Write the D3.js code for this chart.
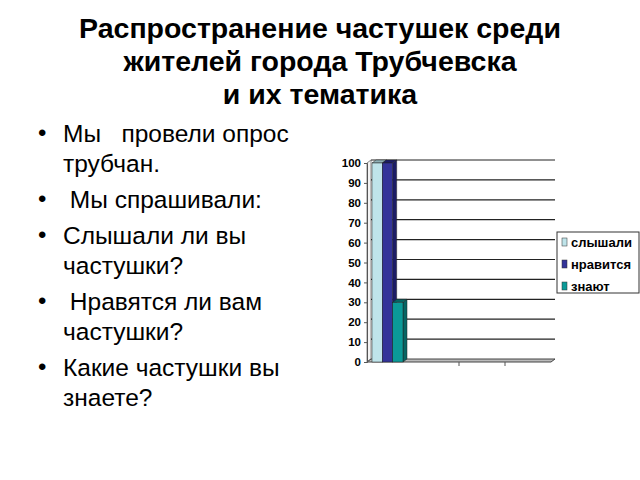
<!DOCTYPE html>
<html>
<head>
<meta charset="utf-8">
<script src="https://cdn.jsdelivr.net/npm/d3@7"></script>
<style>
  body { margin: 0; background: #fff; }
  svg { display: block; }
</style>
</head>
<body>
<div id="slide"></div>
<script>
var titleLines = ["Распространение частушек среди", "жителей города Трубчевска", "и их тематика"];
var bulletItems = [
  ["Мы   провели опрос", "трубчан."],
  ["\u00a0Мы спрашивали:"],
  ["Слышали ли вы", "частушки?"],
  ["\u00a0Нравятся ли вам", "частушки?"],
  ["Какие частушки вы", "знаете?"]
];
var categories = ["1", "2", "3", "4"];
var seriesNames = ["слышали", "нравится", "знают"];
var seriesValues = [[100], [100], [30]];
var seriesColors = ["#bfe4ea", "#333399", "#0b9a98"];
var seriesSides = ["#8fb0b6", "#1c1c66", "#066664"];
var yTicks = [0, 10, 20, 30, 40, 50, 60, 70, 80, 90, 100];

var W = 640, H = 480;
var svg = d3.select("#slide").append("svg")
  .attr("width", W).attr("height", H)
  .style("font-family", "'Liberation Sans', Arial, sans-serif");

// title
svg.append("g").selectAll("text")
  .data(titleLines)
  .join("text")
    .attr("x", 320)
    .attr("y", function(d, i) { return 38 + i * 33; })
    .attr("text-anchor", "middle")
    .attr("font-size", 28.5)
    .attr("font-weight", "bold")
    .attr("fill", "#000")
    .text(function(d) { return d; });

// bullet list
var lineY = 142;
var bl = svg.append("g");
bulletItems.forEach(function(item) {
  bl.append("text")
    .attr("x", 38).attr("y", lineY - 1)
    .attr("font-size", 24)
    .text("\u2022");
  item.forEach(function(line, j) {
    bl.append("text")
      .attr("x", 63).attr("y", lineY + j * 30)
      .attr("font-size", 24.5)
      .attr("fill", "#000")
      .style("white-space", "pre")
      .text(line);
  });
  lineY += item.length * 30 + 6;
});

// chart
var dx = 4, dy = -3;
var x = d3.scaleBand().domain(categories).range([367, 551]);
var y = d3.scaleLinear().domain([0, 100]).range([362, 163]);
var xs = d3.scaleBand().domain(seriesNames).range([5, 36]);

var chart = svg.append("g");

// left wall
chart.append("path")
  .attr("d", "M367," + y(0) + "V" + y(100) + "L" + (367 + dx) + "," + (y(100) + dy) + "V" + (y(0) + dy) + "Z")
  .attr("fill", "#f4f4f4")
  .attr("stroke", "#888")
  .attr("stroke-width", 1);

// back wall gridlines
chart.append("g").selectAll("line")
  .data(yTicks.filter(function(v) { return v > 0; }))
  .join("line")
    .attr("x1", 367 + dx).attr("x2", 551 + dx)
    .attr("y1", function(v) { return y(v) + dy; })
    .attr("y2", function(v) { return y(v) + dy; })
    .attr("stroke", "#222")
    .attr("stroke-width", 1.2);

// floor
chart.append("path")
  .attr("d", "M367," + y(0) + "H551L" + (551 + dx) + "," + (y(0) + dy) + "H" + (367 + dx) + "Z")
  .attr("fill", "#bbb")
  .attr("stroke", "#444")
  .attr("stroke-width", 1);

// y axis
var yAxis = chart.append("g")
  .attr("transform", "translate(367,0)")
  .call(d3.axisLeft(y).tickValues(yTicks).tickSize(3).tickPadding(3));
yAxis.select(".domain").attr("stroke", "#555");
yAxis.selectAll(".tick line").attr("stroke", "#555");
yAxis.selectAll(".tick text")
  .attr("font-family", "'Liberation Sans', Arial, sans-serif")
  .attr("font-size", 11.5)
  .attr("font-weight", "bold")
  .attr("fill", "#000");

// category ticks
chart.append("g").selectAll("line")
  .data(categories.slice(2))
  .join("line")
    .attr("x1", function(c) { return x(c); })
    .attr("x2", function(c) { return x(c); })
    .attr("y1", y(0)).attr("y2", y(0) + 4)
    .attr("stroke", "#555");

// bars
seriesNames.forEach(function(s, si) {
  var g = chart.append("g");
  seriesValues[si].forEach(function(v, ci) {
    var x0 = x(categories[ci]) + xs(s), w = xs.bandwidth(), top = y(v), bot = y(0);
    g.append("path")
      .attr("d", "M" + (x0 + w) + "," + top + "L" + (x0 + w + dx) + "," + (top + dy) +
        "V" + (bot + dy) + "L" + (x0 + w) + "," + bot + "Z")
      .attr("fill", seriesSides[si]).attr("stroke", "#222").attr("stroke-width", 0.5);
    g.append("path")
      .attr("d", "M" + x0 + "," + top + "L" + (x0 + dx) + "," + (top + dy) +
        "H" + (x0 + w + dx) + "L" + (x0 + w) + "," + top + "Z")
      .attr("fill", seriesSides[si]).attr("stroke", "#222").attr("stroke-width", 0.5);
    g.append("rect")
      .attr("x", x0).attr("y", top)
      .attr("width", w).attr("height", bot - top)
      .attr("fill", seriesColors[si])
      .attr("stroke", "#222").attr("stroke-width", 0.5);
  });
});

// legend
var lg = svg.append("g").attr("transform", "translate(557,232)");
lg.append("rect")
  .attr("width", 82).attr("height", 61)
  .attr("fill", "#fff").attr("stroke", "#333").attr("stroke-width", 1);
var items = lg.selectAll("g.item")
  .data(seriesNames)
  .join("g")
    .attr("class", "item")
    .attr("transform", function(d, i) { return "translate(5," + (10 + i * 22) + ")"; });
items.append("rect")
  .attr("x", 0).attr("y", -4).attr("width", 5).attr("height", 8)
  .attr("fill", function(d, i) { return seriesColors[i]; })
  .attr("stroke", "#333").attr("stroke-width", 0.5);
items.append("text")
  .attr("x", 9).attr("y", 4.5)
  .attr("font-size", 13)
  .attr("font-weight", "bold")
  .text(function(d) { return d; });
</script>
</body>
</html>
